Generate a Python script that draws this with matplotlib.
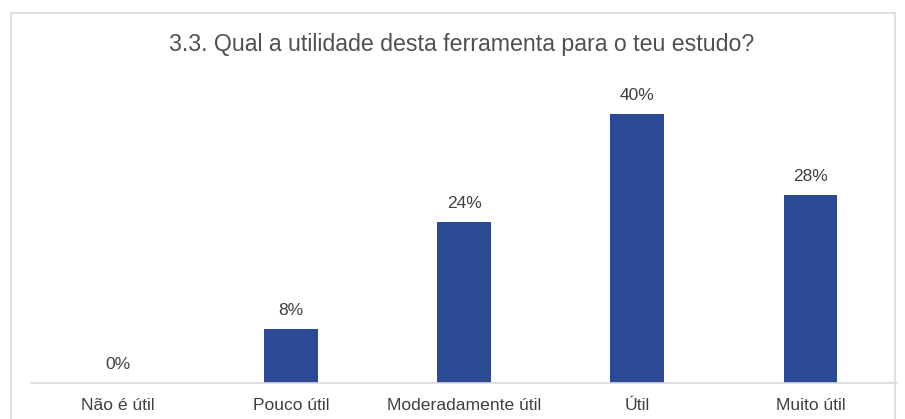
import matplotlib.pyplot as plt
from matplotlib.patches import Rectangle

categories = ["Não é útil", "Pouco útil", "Moderadamente útil", "Útil", "Muito útil"]
values = [0, 8, 24, 40, 28]

W, H = 905, 419
fig = plt.figure(figsize=(W / 100, H / 100), dpi=100)
plt.rcParams["font.family"] = ["Liberation Sans", "DejaVu Sans"]

# light frame around the chart area
fig.patches.append(Rectangle((11 / W, -0.1), (895 - 11) / W, 1.1 - 13 / H,
                             transform=fig.transFigure, fill=False,
                             edgecolor="#D9D9D9", linewidth=1.2))

ax = fig.add_axes([31 / W, 36 / H, (897 - 31) / W, 336 / H])
x = range(len(categories))
bars = ax.bar(x, values, width=0.31, color="#2C4A94")
ax.set_xlim(-0.5, len(categories) - 0.5)
ax.set_ylim(0, 50)

for b, v in zip(bars, values):
    ax.annotate(f"{v}%", (b.get_x() + b.get_width() / 2, v),
                xytext=(0, 8), textcoords="offset points",
                ha="center", va="bottom", fontsize=12.5, color="#404040")

ax.set_xticks(list(x))
ax.set_xticklabels(categories, fontsize=12.6, color="#404040")
ax.tick_params(axis="x", length=0, pad=11)
ax.set_yticks([])
for s in ["top", "right", "left"]:
    ax.spines[s].set_visible(False)
ax.spines["bottom"].set_color("#D9D9D9")
ax.spines["bottom"].set_linewidth(1.2)

fig.text(462 / W, 1 - 45 / H, "3.3. Qual a utilidade desta ferramenta para o teu estudo?",
         ha="center", va="center", fontsize=16.7, color="#505050")

fig.savefig("out.png", dpi=100)
